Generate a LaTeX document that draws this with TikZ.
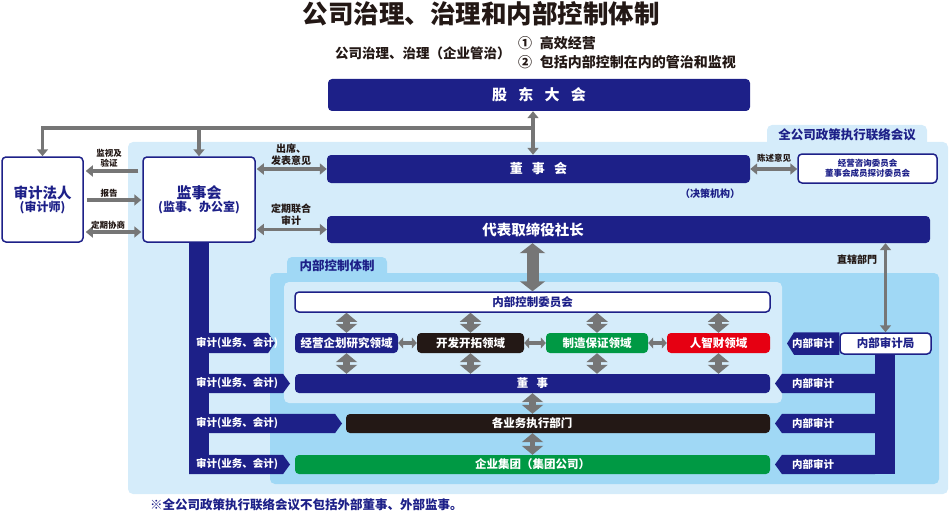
\documentclass[tikz,border=0pt]{standalone}
\usepackage{fontspec}
\setmainfont{Noto Sans CJK SC}
\usetikzlibrary{arrows.meta}
\definecolor{cgNavy}{HTML}{1D2088}
\definecolor{cgInk}{HTML}{231815}
\definecolor{cgPale}{HTML}{D5ECFA}
\definecolor{cgSky}{HTML}{A0D8F5}
\definecolor{cgGray}{HTML}{767676}
\definecolor{cgGreen}{HTML}{009944}
\definecolor{cgRed}{HTML}{E60012}
\tikzset{
  cg panel/.style={fill=cgPale, rounded corners=5pt},
  cg panel deep/.style={fill=cgSky, rounded corners=5pt},
  cg box/.style={rounded corners=4pt, inner sep=0pt, text=white,
    font=\bfseries\fontsize{11.5}{13}\selectfont},
  cg frame/.style={rounded corners=4pt, inner sep=0pt, draw=cgNavy,
    line width=1.5pt, fill=white, text=cgNavy, align=center,
    font=\bfseries\fontsize{11.5}{13}\selectfont},
  cg link/.style={draw=cgGray, line width=3.5pt,
    -{Triangle[length=7pt,width=11pt]}},
  cg link both/.style={cg link,
    {Triangle[length=7pt,width=11pt]}-{Triangle[length=7pt,width=11pt]}},
  cg hop/.style={draw=cgGray, line width=3.5pt,
    {Triangle[length=5pt,width=11pt]}-{Triangle[length=5pt,width=11pt]}},
  cg flow/.style={draw=cgGray, line width=7.5pt,
    {Triangle[length=9pt,width=21pt]}-{Triangle[length=9pt,width=21pt]}},
  cg flow wide/.style={draw=cgGray, line width=12pt,
    {Triangle[length=10pt,width=25pt]}-{Triangle[length=10pt,width=25pt]}},
  cg note/.style={font=\bfseries\fontsize{8.5}{10}\selectfont, text=cgInk,
    align=center, inner sep=0pt},
  cg note big/.style={cg note, font=\bfseries\fontsize{10}{12.5}\selectfont},
  cg tag/.style={font=\bfseries\fontsize{10.5}{12}\selectfont, text=white,
    anchor=west, inner sep=0pt},
  cg head/.style={font=\bfseries\fontsize{12.5}{14}\selectfont, text=cgNavy,
    inner sep=0pt},
  cg lead/.style={font=\bfseries\fontsize{14}{16}\selectfont, text=cgInk,
    inner sep=0pt, anchor=west}
}
\begin{document}
\begin{tikzpicture}[x=1pt,y=-1pt]
  \useasboundingbox (0,0) rectangle (950,516);

  \path[cg panel] (767,125) rectangle (927,150);
  \path[cg panel] (128,142) rectangle (948,494);
  \path[cg panel deep] (287,257) rectangle (387,285);
  \path[cg panel deep] (270,273) rectangle (939,484);
  \path[cg panel] (284,282) rectangle (782,403);
  \node[cg head] (forum) at (847,135) {全公司政策执行联络会议};
  \node[cg head] (icsys) at (337,266) {内部控制体制};

  \node[font=\bfseries\fontsize{25.5}{28}\selectfont, text=cgInk, inner sep=0pt]
    (title) at (481,14) {公司治理、治理和内部控制体制};
  \node[cg lead, font=\bfseries\fontsize{13.5}{15}\selectfont] (scope) at (335,53)
    {公司治理、治理（企业管治）};
  \node[cg lead] (aim1) at (518,43) {①\hspace{.55em}高效经营};
  \node[cg lead] (aim2) at (518,62) {②\hspace{.55em}包括内部控制在内的管治和监视};

  \node[cg box, fill=cgNavy, minimum width=422pt, minimum height=32pt,
    font=\bfseries\fontsize{15}{17}\selectfont] (gm) at (539,95)
    {股\hspace{.75em}东\hspace{.75em}大\hspace{.75em}会};
  \node[cg box, fill=cgNavy, minimum width=423pt, minimum height=28pt,
    font=\bfseries\fontsize{13}{15}\selectfont] (board) at (538.5,169)
    {董\hspace{.7em}事\hspace{.7em}会};
  \node[cg head, font=\bfseries\fontsize{10}{12}\selectfont] (role) at (710,194)
    {（决策机构）};
  \node[cg box, fill=cgNavy, minimum width=603pt, minimum height=27pt]
    (ceo) at (628.5,229.5) {};
  \node[cg box, font=\bfseries\fontsize{14.5}{16}\selectfont] (ceo label)
    at (533,229.5) {代表取缔役社长};

  \node[cg frame, minimum width=81pt, minimum height=85pt] (auditor) at (42.5,199.5)
    {{\fontsize{14.5}{16}\selectfont 审计法人}\\{\fontsize{12}{14}\selectfont (审计师)}};
  \node[cg frame, minimum width=112pt, minimum height=85pt] (kansa) at (199,199.5)
    {{\fontsize{15}{17}\selectfont 监事会}\\{\fontsize{12}{14}\selectfont (监事、办公室)}};
  \node[cg frame, minimum width=139pt, minimum height=29pt,
    font=\bfseries\fontsize{8.5}{10.5}\selectfont] (advisory) at (867.5,168.5)
    {经营咨询委员会\\董事会成员探讨委员会};

  \node[cg frame, minimum width=475pt, minimum height=20pt] (icc) at (532.5,302)
    {内部控制委员会};
  \foreach \n/\x/\w/\c/\t in {plan/346.5/103/cgNavy/经营企划研究领域,
      dev/470.5/107/cgInk/开发开拓领域, mfg/597/102/cgGreen/制造保证领域,
      hr/718.5/103/cgRed/人智财领域}
    \node[cg box, fill=\c, minimum width=\w pt, minimum height=20pt] (\n) at (\x,343) {\t};
  \node[cg box, fill=cgNavy, minimum width=475pt, minimum height=19pt] (director)
    at (532.5,383.5) {董\hspace{.7em}事};
  \node[cg box, fill=cgInk, minimum width=424pt, minimum height=19pt] (ops)
    at (558,423.5) {};
  \node[cg box] (ops label) at (532,423.5) {各业务执行部门};
  \node[cg box, fill=cgGreen, minimum width=475pt, minimum height=19pt] (group)
    at (532.5,464.5) {企业集团（集团公司）};
  \node[cg frame, minimum width=91pt, minimum height=21pt] (iad) at (885.5,343.5)
    {内部审计局};

  \fill[cgNavy] (189,0 |- kansa.south) rectangle (209,0 |- group.south);
  \foreach \n/\tip in {plan/275, director/290, ops/342, group/290} {
    \fill[cgNavy] (189,0 |- \n.north) -- (\tip-7,0 |- \n.north) -- (\tip,0 |- \n.center)
      -- (\tip-7,0 |- \n.south) -- (189,0 |- \n.south) -- cycle;
    \node[cg tag] (audit \n) at (196,0 |- \n.center) {审计(业务、会计)};
  }
  \fill[cgNavy] (875,0 |- iad.south) rectangle (895,0 |- group.south);
  \fill[cgNavy] (iad.north west) -- (794,0 |- iad.north) -- (787,0 |- iad.center)
    -- (794,0 |- iad.south) -- (iad.south west) -- cycle;
  \node[cg tag] (inner audit iad) at (792,0 |- iad.center) {内部审计};
  \foreach \n in {director, ops, group} {
    \fill[cgNavy] (875,0 |- \n.north) -- (782,0 |- \n.north) -- (775,0 |- \n.center)
      -- (782,0 |- \n.south) -- (875,0 |- \n.south) -- cycle;
    \node[cg tag] (inner audit \n) at (792,0 |- \n.center) {内部审计};
  }

  \coordinate (trunk) at (533,128);
  \draw[cg link both] (gm.south -| trunk) -- (board.north -| trunk);
  \draw[cg link] (trunk) -| (auditor.north);
  \draw[cg link] (kansa.north |- trunk) -- (kansa.north);

  \draw[cg link, shorten <=4pt, shorten >=2pt] (kansa.west |- 0,171) -- (auditor.east |- 0,171);
  \draw[cg link, shorten <=3pt, shorten >=1pt] (auditor.east |- 0,200) -- (kansa.west |- 0,200);
  \draw[cg link both, shorten <=2pt, shorten >=1pt] (auditor.east |- 0,232) -- (kansa.west |- 0,232);
  \node[cg note] (watch) at (109,158) {监视及\\验证};
  \node[cg note] (report) at (109,193) {报告};
  \node[cg note] (consult) at (108,225) {定期协商};

  \draw[cg link both, shorten <=1pt] (kansa.east |- board.west) -- (board.west);
  \draw[cg link both, shorten <=1pt] (kansa.east |- ceo.west) -- (ceo.west);
  \node[cg note big] (attend) at (291,154.5) {出席、\\发表意见};
  \node[cg note big] (joint) at (291,214.5) {定期联合\\审计};

  \draw[cg link both] (board.east) -- (advisory.west |- board.east);
  \node[cg note] (state) at (774,158) {陈述意见};

  \draw[cg link both, line width=3pt] (ceo.south -| iad.north) -- (iad.north);
  \node[cg note big] (direct) at (857,260) {直辖部門};

  \draw[cg flow wide] (ceo.south -| icc.north) -- (icc.north);
  \foreach \n in {plan, dev, mfg, hr} {
    \draw[cg flow] (icc.south -| \n.north) -- (\n.north);
    \draw[cg flow] (\n.south) -- (director.north -| \n.south);
  }
  \draw[cg hop] (plan.east) -- (dev.west);
  \draw[cg hop] (dev.east) -- (mfg.west);
  \draw[cg hop] (mfg.east) -- (hr.west);
  \draw[cg flow] (director.south) -- (ops.north -| director.south);
  \draw[cg flow, line width=5pt] (ops.south -| group.north) -- (group.north);

  \node[cg head, font=\bfseries\fontsize{12.5}{14}\selectfont, anchor=west] (footnote)
    at (150,505) {※全公司政策执行联络会议不包括外部董事、外部监事。};
\end{tikzpicture}
\end{document}
